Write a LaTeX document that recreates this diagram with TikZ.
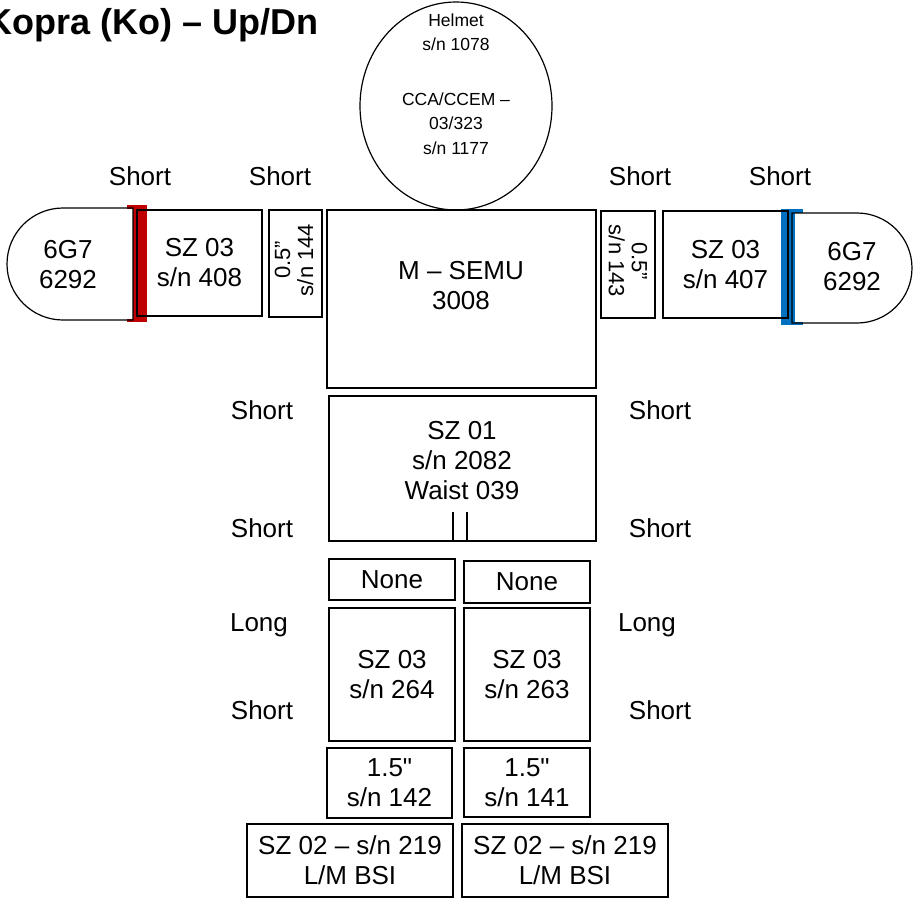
\documentclass[tikz,border=0pt]{standalone}
\usepackage{fontspec}
\setmainfont{Liberation Sans}[Ligatures=TeXOff]
\usepackage{tikz}
\usetikzlibrary{shapes.geometric, positioning}
\definecolor{cuffred}{RGB}{192,0,0}
\definecolor{cuffblue}{RGB}{0,112,192}

\begin{document}
\begin{tikzpicture}[
  x=1pt, y=-1pt,
  part/.style={rectangle, draw=black, line width=1.2pt, inner sep=0pt,
               align=center, font=\fontsize{26}{30}\selectfont},
  txt/.style={align=center, font=\fontsize{26}{30}\selectfont},
  thin/.style={align=center, font=\fontsize{22}{23}\selectfont},
  edge/.style={draw=black, line width=1.2pt}
]
  \useasboundingbox (0,0) rectangle (913,898);

  % Title
  \node[font=\fontsize{36}{40}\selectfont\bfseries, anchor=east] (title) at (322,25) {Kopra (Ko) – Up/Dn};

  % Helmet
  \node[draw, ellipse, line width=1.2pt, minimum width=192pt, minimum height=208pt, inner sep=0pt] (helmet) at (456,106) {};
  \node[align=center, font=\fontsize{17.5}{24.5}\selectfont] (helmettxt) at (456,84)
    {Helmet\\s/n 1078\\[30pt]CCA/CCEM –\\03/323\\s/n 1177};

  % Wrist disconnects
  \fill[cuffred] (133,206) rectangle (147,321);
  \fill[cuffred] (127,205) rectangle (147,209);
  \fill[cuffred] (127,319) rectangle (147,322);
  \fill[cuffblue] (781,210) rectangle (795,324);
  \fill[cuffblue] (781,209) rectangle (803,213);
  \fill[cuffblue] (781,322) rectangle (803,325);

  % Gloves
  \draw[edge] (133,208) -- (63,208) arc[start angle=90, end angle=270, radius=56pt] -- (133,320) -- cycle;
  \node[txt] (gloveL) at (68,265) {6G7\\6292};
  \draw[edge] (792,213) -- (857,213) arc[start angle=90, end angle=-90, radius=55pt] -- (792,323) -- cycle;
  \node[txt] (gloveR) at (852,267) {6G7\\6292};

  % Arms
  \node[part, minimum width=125pt, minimum height=106pt] (armL) at (199.5,263) {SZ 03\\s/n 408};
  \node[part, minimum width=53pt, minimum height=107pt] (halfL) at (295.5,263.5) {};
  \node[thin, rotate=90] (halfLtxt) at (294,260) {0.5”\\s/n 144};
  \node[part, minimum width=54pt, minimum height=107pt] (halfR) at (628,264.5) {};
  \node[thin, rotate=-90] (halfRtxt) at (628,261) {0.5”\\s/n 143};
  \node[part, minimum width=125pt, minimum height=107pt] (armR) at (725.5,264.5) {SZ 03\\s/n 407};

  % Torso
  \node[part, fill=white, minimum width=269pt, minimum height=178pt] (semu) at (461.5,299) {};
  \node[txt] (semutxt) at (461,286) {M – SEMU\\3008};
  \node[part, minimum width=267pt, minimum height=145pt] (waist) at (462.5,468.5) {};
  \node[txt] (waisttxt) at (462,461) {SZ 01\\s/n 2082\\Waist 039};
  \draw[edge] (453,512) -- (453,541);
  \draw[edge] (467,512) -- (467,541);

  % Legs
  \node[part, minimum width=126pt, minimum height=41pt] (noneL) at (392,579.5) {None};
  \node[part, minimum width=126pt, minimum height=42pt] (noneR) at (527,582) {None};
  \node[part, minimum width=126pt, minimum height=133pt] (legL) at (392,674.5) {SZ 03\\s/n 264};
  \node[part, minimum width=126pt, minimum height=133pt] (legR) at (527,674.5) {SZ 03\\s/n 263};
  \node[part, minimum width=125pt, minimum height=70pt] (spacerL) at (389.5,783) {1.5"\\s/n 142};
  \node[part, minimum width=126pt, minimum height=69pt] (spacerR) at (527,782.5) {1.5"\\s/n 141};
  \node[part, minimum width=206pt, minimum height=73pt] (bootL) at (350,860.5) {SZ 02 – s/n 219\\L/M BSI};
  \node[part, minimum width=206pt, minimum height=73pt] (bootR) at (565,860.5) {SZ 02 – s/n 219\\L/M BSI};

  % Sizing labels
  \node[txt] (s1) at (140,176) {Short};
  \node[txt] (s2) at (280,176) {Short};
  \node[txt] (s3) at (640,176) {Short};
  \node[txt] (s4) at (780,176) {Short};
  \node[txt] (s5) at (262,410) {Short};
  \node[txt] (s6) at (660,410) {Short};
  \node[txt] (s7) at (262,528) {Short};
  \node[txt] (s8) at (660,528) {Short};
  \node[txt] (l1) at (259,625) {Long};
  \node[txt] (l2) at (647,625) {Long};
  \node[txt] (s9) at (262,710) {Short};
  \node[txt] (s10) at (660,710) {Short};
\end{tikzpicture}
\end{document}
